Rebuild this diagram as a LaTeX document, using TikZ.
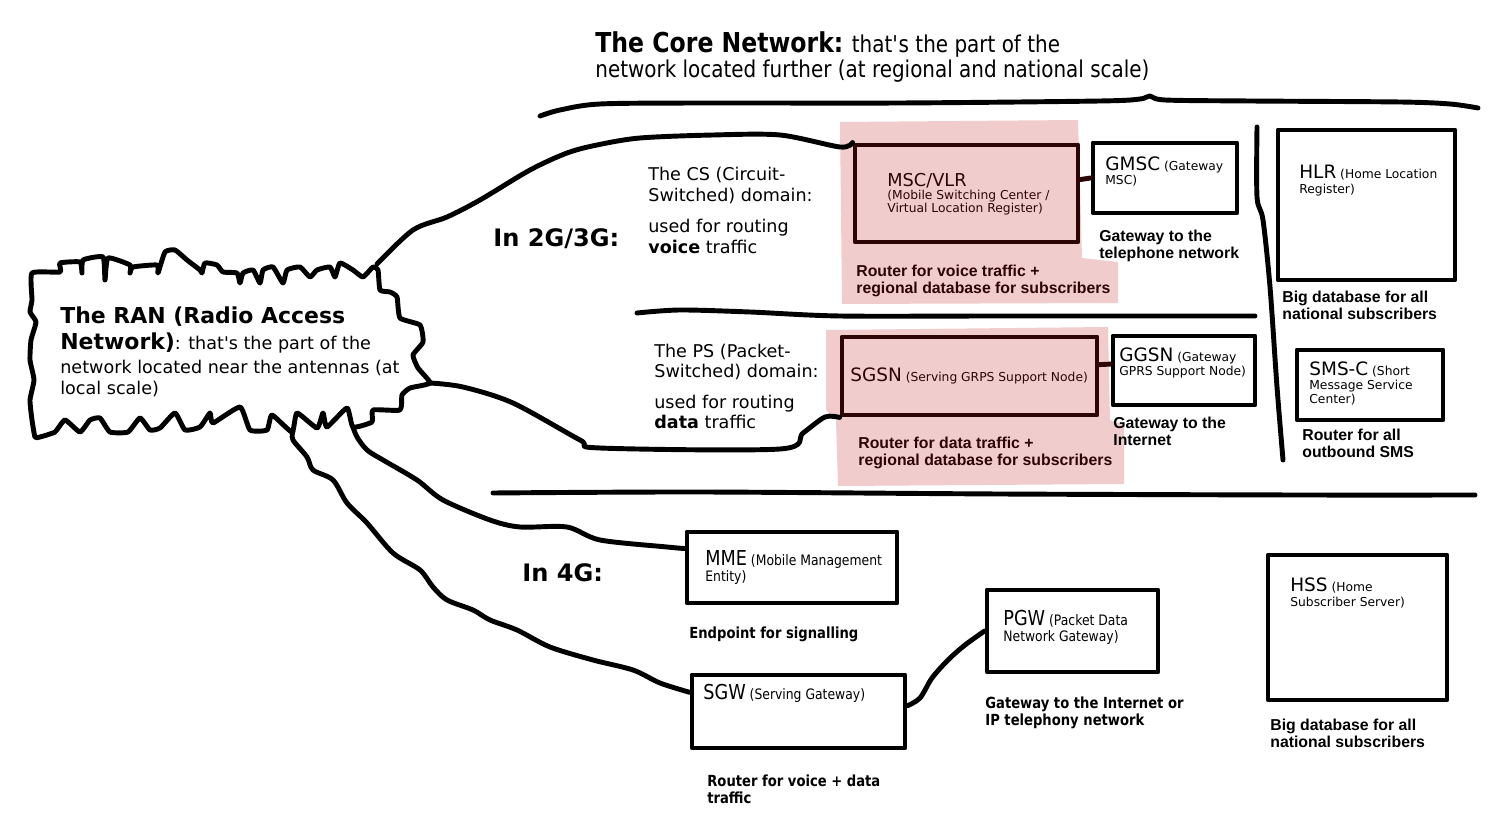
\documentclass[tikz,border=0pt]{standalone}
\usepackage{fontspec}
\setmainfont{DejaVu Sans}
\newfontfamily\condfont[FakeStretch=0.86]{DejaVu Sans}
\newfontfamily\arialfont{Liberation Sans}
\definecolor{zonepink}{RGB}{240,204,204}
\definecolor{darkbrown}{RGB}{45,5,5}

\begin{document}
\begin{tikzpicture}[
  x=0.02cm,
  y=-0.02cm,
  hand/.style={line width=2.8pt, line cap=round, line join=round},
  unit/.style={hand, draw=black, rectangle, inner sep=0pt},
  zone/.style={fill=zonepink},
  txt/.style={anchor=north west, inner sep=0pt, align=left},
  lbl/.style={txt, font=\fontsize{7}{8.5}\selectfont},
  note/.style={txt, font=\arialfont\bfseries\fontsize{9}{9.6}\selectfont},
  cnote/.style={txt, font=\condfont\bfseries\fontsize{8.7}{9.6}\selectfont}
  ]
    \useasboundingbox[fill=white] (0,0) rectangle (1497,820);

    % pink zones
    \fill[zone] (840,122) -- (1078,120) -- (1082,258) -- (1118,262) -- (1118,303) -- (842,304) -- cycle;
    \fill[zone] (826,330) -- (1108,327) -- (1110,420) -- (1124,425) -- (1124,484) -- (838,486) -- (836,420) -- (826,410) -- cycle;

    % separators
    \draw[hand] plot[smooth, tension=0.5] coordinates {(540,116) (560,110) (600,104) (700,103) (900,103) (1100,101) (1140,99) (1150,96) (1165,100) (1250,101) (1400,102) (1450,104) (1478,108)};
    \draw[hand] plot[smooth, tension=0.5] coordinates {(637,313) (680,310) (750,312) (840,316) (1000,316) (1255,316)};
    \draw[hand] plot[smooth, tension=0.5] coordinates {(493,493) (700,492) (1000,494) (1300,495) (1475,495)};
    \draw[hand] plot[smooth, tension=0.5] coordinates {(1257,127) (1257,197) (1263,220) (1270,287) (1277,387) (1283,460)};

    % the RAN cloud
    \draw[hand] plot[smooth cycle, tension=0.3] coordinates {
      (32,300) (32,273) (60,272) (60,263) (80,262) (82,273) (83,260) (103,257) (105,280) (108,258)
      (130,265) (130,273) (133,267) (157,265) (158,273) (165,252) (175,250) (187,260) (200,270) (202,273)
      (205,263) (217,265) (223,272) (237,273) (240,283) (243,273) (253,270) (260,283) (263,270) (273,267)
      (283,283) (287,270) (300,267) (310,277) (317,270) (330,267) (335,277) (340,263) (353,270) (363,277)
      (373,267) (378,270) (380,290) (390,292) (397,297) (400,318) (420,325) (423,342) (413,355) (418,368)
      (430,383) (410,388) (402,395) (400,410) (373,410) (372,422) (353,427) (347,408) (327,427) (323,413)
      (317,428) (297,413) (292,432) (272,415) (267,430) (250,430) (240,407) (213,423) (210,413) (200,427)
      (185,430) (175,413) (160,428) (150,430) (140,418) (128,432) (110,432) (100,418) (90,420) (80,432)
      (65,420) (55,432) (40,437) (35,437) (32,420) (30,400) (34,380) (30,360) (31,340) (36,322) (30,312)};
    \coordinate (rancs) at (377,264);
    \coordinate (ranps) at (430,383);
    \coordinate (ranmme) at (353,427);
    \coordinate (ransgw) at (293,431);

    % boxes
    \node[unit, draw=darkbrown, minimum width=4.46cm, minimum height=1.94cm] (msc) at (966.5,193.5) {};
    \node[unit, minimum width=2.88cm, minimum height=1.40cm] (gmsc) at (1165,178) {};
    \node[unit, minimum width=3.54cm, minimum height=3.00cm] (hlr) at (1366.5,205) {};
    \node[unit, draw=darkbrown, minimum width=5.10cm, minimum height=1.56cm] (sgsn) at (969.5,376) {};
    \node[unit, minimum width=2.84cm, minimum height=1.38cm] (ggsn) at (1184,370.5) {};
    \node[unit, minimum width=2.92cm, minimum height=1.40cm] (smsc) at (1370,385) {};
    \node[unit, minimum width=4.20cm, minimum height=1.42cm] (mme) at (792,567.5) {};
    \node[unit, minimum width=4.26cm, minimum height=1.46cm] (sgw) at (798.5,711.5) {};
    \node[unit, minimum width=3.42cm, minimum height=1.64cm] (pgw) at (1072.5,631) {};
    \node[unit, minimum width=3.58cm, minimum height=2.90cm] (hss) at (1357.5,627.5) {};

    % links
    \draw[hand] plot[smooth, tension=0.5] coordinates {(rancs) (413,230) (447,217) (480,200) (530,170) (567,153) (597,145) (640,138) (713,135) (780,135) (840,147) (msc.north west)};
    \draw[hand] plot[smooth, tension=0.5] coordinates {(ranps) (463,387) (513,403) (580,440) (600,448) (780,449) (803,433) (825,417) (sgsn.south west)};
    \draw[hand] plot[smooth, tension=0.5] coordinates {(ranmme) (357,437) (367,450) (383,460) (417,480) (443,500) (490,520) (520,527) (567,527) (600,540) (667,547) (mme.170)};
    \draw[hand] plot[smooth, tension=0.5] coordinates {(ransgw) (293,440) (307,457) (313,470) (333,480) (347,503) (367,523) (393,553) (420,570) (433,587) (447,600) (473,610) (490,620) (517,630) (550,647) (593,660) (633,670) (660,683) (sgw.170)};
    \draw[hand] plot[smooth, tension=0.5] coordinates {(sgw.3) (920,698) (932,678) (948,660) (965,645) (pgw.west)};
    \draw[hand, darkbrown] (msc.7) -- (gmsc.west);
    \draw[hand, darkbrown] (sgsn.5) -- (ggsn.175);

    % titles
    \node[txt, font=\condfont\fontsize{13.2}{14.7}\selectfont] (core) at (595,31) {{\bfseries\fontsize{15.6}{15}\selectfont The Core Network:} that\textquotesingle s the part of the\\network located further (at regional and national scale)};
    \node[txt, font=\fontsize{10}{12}\selectfont] (ran) at (60,306) {{\bfseries\fontsize{12.5}{15}\selectfont The RAN (Radio Access}\\[3.3pt]{\bfseries\fontsize{12.5}{15}\selectfont Network)}: that\textquotesingle s the part of the\\[1.6pt]network located near the antennas (at\\local scale)};
    \node[txt, font=\bfseries\fontsize{13.7}{15}\selectfont] (gen23) at (493,228) {In 2G/3G:};
    \node[txt, font=\bfseries\fontsize{13.7}{15}\selectfont] (gen4) at (522,563) {In 4G:};
    \node[txt, font=\fontsize{10}{12}\selectfont] (cs) at (648,167) {The CS (Circuit-\\Switched) domain:\\[5.6pt]used for routing\\\textbf{voice} traffic};
    \node[txt, font=\fontsize{10}{11.4}\selectfont] (ps) at (654,344) {The PS (Packet-\\Switched) domain:\\[6.2pt]used for routing\\\textbf{data} traffic};

    % box labels
    \node[lbl, text=darkbrown, font=\fontsize{7}{7.4}\selectfont] (msct) at (887,173) {{\fontsize{10.1}{9.6}\selectfont MSC/VLR}\\(Mobile Switching Center /\\Virtual Location Register)};
    \node[lbl] (gmsct) at (1105,156) {{\fontsize{10.5}{9.6}\selectfont GMSC} (Gateway\\MSC)};
    \node[lbl] (hlrt) at (1299,165) {{\fontsize{10.5}{9.6}\selectfont HLR} (Home Location\\Register)};
    \node[lbl, text=darkbrown] (sgsnt) at (850,367) {{\fontsize{10.5}{9.6}\selectfont SGSN} (Serving GRPS Support Node)};
    \node[lbl] (ggsnt) at (1119,347) {{\fontsize{10.5}{9.6}\selectfont GGSN} (Gateway\\GPRS Support Node)};
    \node[lbl, font=\fontsize{7}{8}\selectfont] (smsct) at (1309,361) {{\fontsize{10.5}{9.6}\selectfont SMS-C} (Short\\Message Service\\Center)};
    \node[lbl, font=\condfont\fontsize{8.2}{9}\selectfont] (mmet) at (705,550) {{\fontsize{11.7}{9.6}\selectfont MME} (Mobile Management\\Entity)};
    \node[lbl, font=\condfont\fontsize{8.2}{9}\selectfont] (sgwt) at (703,684) {{\fontsize{11.7}{9.6}\selectfont SGW} (Serving Gateway)};
    \node[lbl, font=\condfont\fontsize{8.2}{9}\selectfont] (pgwt) at (1003,610) {{\fontsize{11.7}{9.6}\selectfont PGW} (Packet Data\\Network Gateway)};
    \node[lbl, font=\fontsize{7}{9}\selectfont] (hsst) at (1290,577) {{\fontsize{10.5}{9.6}\selectfont HSS} (Home\\Subscriber Server)};

    % captions
    \node[note, text=darkbrown] (mscn) at (856,265) {Router for voice traffic +\\regional database for subscribers};
    \node[note] (gmscn) at (1099,230) {Gateway to the\\telephone network};
    \node[note] (hlrn) at (1282,291) {Big database for all\\national subscribers};
    \node[note, text=darkbrown] (sgsnn) at (858,437) {Router for data traffic +\\regional database for subscribers};
    \node[note] (ggsnn) at (1113,417) {Gateway to the\\Internet};
    \node[note] (smscn) at (1302,429) {Router for all\\outbound SMS};
    \node[note] (hssn) at (1270,719) {Big database for all\\national subscribers};
    \node[cnote] (mmen) at (689,627) {Endpoint for signalling};
    \node[cnote] (sgwn) at (707,775) {Router for voice + data\\traffic};
    \node[cnote] (pgwn) at (985,697) {Gateway to the Internet or\\IP telephony network};

\end{tikzpicture}
\end{document}
